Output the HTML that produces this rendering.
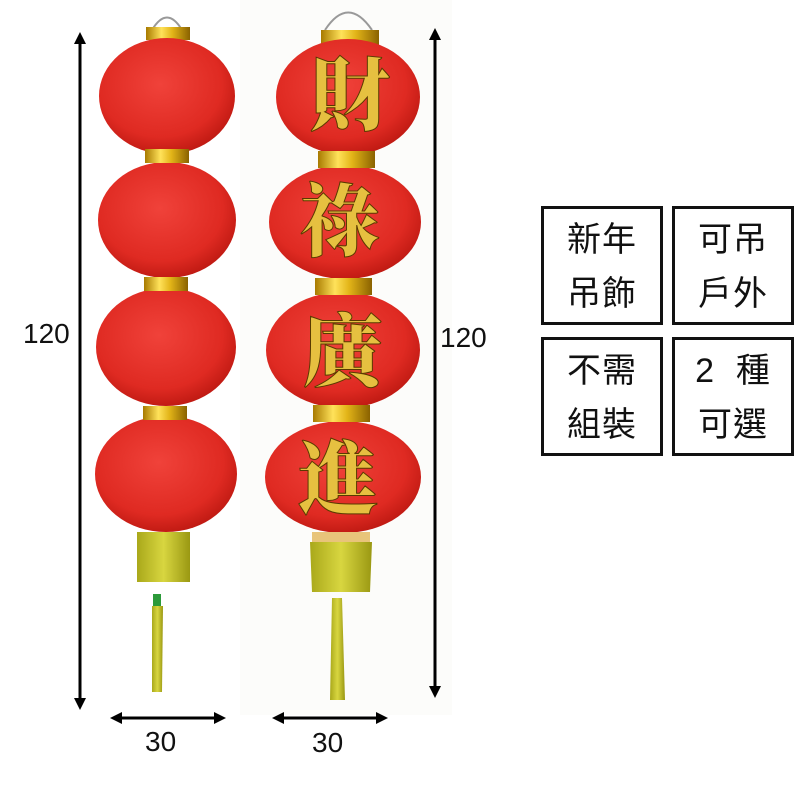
<!DOCTYPE html>
<html><head><meta charset="utf-8"><style>
html,body{margin:0;padding:0;background:#fff}
.b{position:absolute;border:3px solid #111;box-sizing:border-box;width:122px;height:119px;font-family:"Liberation Sans","Noto Sans CJK TC",sans-serif;font-weight:400;font-size:34px;line-height:54px;color:#111;text-align:center;padding-top:4px;letter-spacing:1px}
</style></head><body>
<div style="position:relative;width:800px;height:800px;overflow:hidden">
<svg width="800" height="800" style="position:absolute;left:0;top:0" font-family="Liberation Sans, sans-serif">
<defs>
<radialGradient id="r" cx="45%" cy="40%" r="65%"><stop offset="0" stop-color="#f0423a"/><stop offset="0.7" stop-color="#df2a22"/><stop offset="1" stop-color="#b8160f"/></radialGradient>
<linearGradient id="g" x1="0" x2="1"><stop offset="0" stop-color="#a87a00"/><stop offset="0.35" stop-color="#ffe25a"/><stop offset="0.6" stop-color="#e2b418"/><stop offset="1" stop-color="#8a6200"/></linearGradient>
<linearGradient id="y" x1="0" x2="1"><stop offset="0" stop-color="#a9a81a"/><stop offset="0.5" stop-color="#d8d640"/><stop offset="1" stop-color="#9a9812"/></linearGradient>
<marker id="a" markerWidth="12" markerHeight="12" refX="6" refY="6" orient="auto-start-reverse" markerUnits="userSpaceOnUse"><path d="M0,0L12,6L0,12z" fill="#000"/></marker>
</defs>
<rect x="240" y="0" width="212" height="715" fill="#fcfcfa"/>
<path d="M152,30 Q167,5 182,30" fill="none" stroke="#999" stroke-width="2"/>
<rect x="146" y="27" width="44" height="13" fill="url(#g)"/>
<ellipse cx="167" cy="96" rx="68" ry="58" fill="url(#r)"/>
<ellipse cx="167" cy="220" rx="69" ry="58" fill="url(#r)"/>
<ellipse cx="166" cy="347" rx="70" ry="59" fill="url(#r)"/>
<ellipse cx="166" cy="474" rx="71" ry="58" fill="url(#r)"/>
<rect x="145" y="149" width="44" height="14" fill="url(#g)"/>
<rect x="144" y="277" width="44" height="14" fill="url(#g)"/>
<rect x="143" y="406" width="44" height="14" fill="url(#g)"/>
<path d="M137,532 L190,532 L190,582 L137,582 Z" fill="url(#y)"/>
<rect x="153" y="594" width="8" height="12" fill="#2c9a3a"/>
<path d="M152,606 L163,606 L162,692 L152,692 Z" fill="url(#y)"/>
<path d="M325,30 Q348,-5 372,30" fill="none" stroke="#999" stroke-width="2"/>
<rect x="321" y="30" width="58" height="15" fill="url(#g)"/>
<ellipse cx="348" cy="97" rx="72" ry="58" fill="url(#r)"/>
<ellipse cx="345" cy="222" rx="76" ry="57" fill="url(#r)"/>
<ellipse cx="343" cy="350" rx="77" ry="58" fill="url(#r)"/>
<ellipse cx="343" cy="477" rx="78" ry="56" fill="url(#r)"/>
<rect x="318" y="151" width="57" height="17" fill="url(#g)"/>
<rect x="315" y="278" width="57" height="17" fill="url(#g)"/>
<rect x="313" y="405" width="57" height="17" fill="url(#g)"/>
<g font-family="Noto Serif CJK SC, serif" font-weight="900" font-size="80" fill="#e6c040" stroke="#5a3a00" stroke-width="1" text-anchor="middle">
<text x="350" y="124">財</text><text x="340" y="250">祿</text><text x="343" y="380">廣</text><text x="338" y="507">進</text>
</g>
<rect x="312" y="532" width="58" height="10" fill="#e8c47a"/>
<path d="M310,542 L372,542 L370,592 L312,592 Z" fill="url(#y)"/>
<path d="M332,598 L342,598 L345,700 L330,700 Z" fill="url(#y)"/>
<g stroke="#000" stroke-width="3">
<line x1="80" y1="38" x2="80" y2="704" marker-start="url(#a)" marker-end="url(#a)"/>
<line x1="435" y1="34" x2="435" y2="692" marker-start="url(#a)" marker-end="url(#a)"/>
<line x1="116" y1="718" x2="220" y2="718" marker-start="url(#a)" marker-end="url(#a)"/>
<line x1="278" y1="718" x2="382" y2="718" marker-start="url(#a)" marker-end="url(#a)"/>
</g>
<g font-size="28" fill="#111">
<text x="23" y="343">120</text>
<text x="440" y="347">120</text>
<text x="145" y="751">30</text>
<text x="312" y="752">30</text>
</g>
</svg>
<div class="b" style="left:541px;top:206px">新年<br>吊飾</div>
<div class="b" style="left:672px;top:206px">可吊<br>戶外</div>
<div class="b" style="left:541px;top:337px">不需<br>組裝</div>
<div class="b" style="left:672px;top:337px">2&nbsp;&nbsp;種<br>可選</div>
</div>
</body></html>
